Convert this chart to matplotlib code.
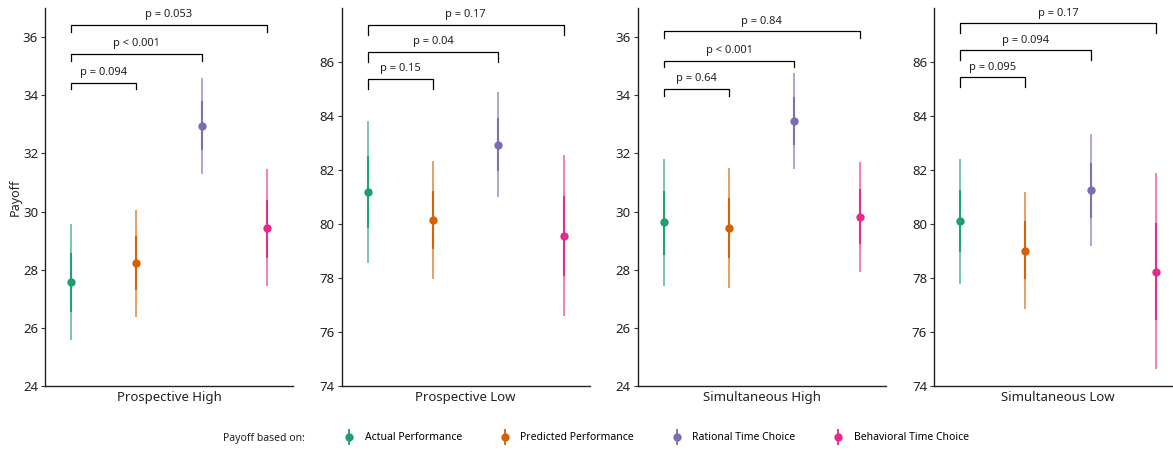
import matplotlib
matplotlib.use("Agg")
import matplotlib.pyplot as plt
from matplotlib.lines import Line2D
from matplotlib.legend_handler import HandlerTuple

plt.rcParams['font.family'] = ['Noto Sans', 'DejaVu Sans']

# data
panels = ['Prospective High', 'Prospective Low', 'Simultaneous High', 'Simultaneous Low']
series = ['Actual Performance', 'Predicted Performance', 'Rational Time Choice', 'Behavioral Time Choice']
colors = ['#1B9E77', '#D95F02', '#7570B3', '#E7298A']

means = [
    [27.56, 28.22, 32.95, 29.44],
    [81.20, 80.15, 82.94, 79.56],
    [29.64, 29.43, 33.13, 29.81],
    [80.11, 79.01, 81.26, 78.22],
]
ci_low = [
    [25.58, 26.38, 31.29, 27.44],
    [78.57, 77.95, 81.00, 76.59],
    [27.44, 27.37, 31.48, 27.92],
    [77.79, 76.84, 79.19, 74.62],
]
ci_high = [
    [29.56, 30.05, 34.60, 31.46],
    [83.81, 82.33, 84.90, 82.54],
    [31.81, 31.50, 34.77, 31.71],
    [82.42, 81.20, 83.32, 81.88],
]
se_low = [
    [26.55, 27.30, 32.13, 28.40],
    [79.87, 79.06, 81.96, 78.07],
    [28.50, 28.41, 32.30, 28.87],
    [78.96, 77.95, 80.24, 76.44],
]
se_high = [
    [28.58, 29.15, 33.79, 30.40],
    [82.52, 81.22, 83.94, 81.04],
    [30.70, 30.47, 33.94, 30.76],
    [81.26, 80.11, 82.27, 80.05],
]

# comparisons against Actual Performance (group 1)
cmp_to = [2, 3, 4]
p_labels = [
    ['p = 0.094', 'p < 0.001', 'p = 0.053'],
    ['p = 0.15', 'p = 0.04', 'p = 0.17'],
    ['p = 0.64', 'p < 0.001', 'p = 0.84'],
    ['p = 0.095', 'p = 0.094', 'p = 0.17'],
]
bracket_top = [
    [34.42, 35.43, 36.43],
    [85.38, 86.38, 87.37],
    [34.22, 35.19, 36.20],
    [85.44, 86.44, 87.43],
]
bracket_drop = [
    [34.20, 35.19, 36.18],
    [84.99, 86.00, 87.00],
    [33.97, 34.96, 35.97],
    [85.07, 86.07, 87.09],
]

ylims = [(24, 37), (74, 88), (24, 37), (74, 88)]
yticks = [[24, 26, 28, 30, 32, 34, 36], [74, 76, 78, 80, 82, 84, 86],
          [24, 26, 28, 30, 32, 34, 36], [74, 76, 78, 80, 82, 84, 86]]

W, H = 1173, 451
fig = plt.figure(figsize=(W / 100, H / 100), dpi=100)

lefts = [45, 341.7, 637.7, 934]
widths = [248, 248, 248, 239]
xmax = [4.4, 4.4, 4.4, 4.26]
bottom_px, top_px = 386, 8

for i in range(4):
    ax = fig.add_axes([lefts[i] / W, (H - bottom_px) / H, widths[i] / W, (bottom_px - top_px) / H])
    for j in range(4):
        x = j + 1
        ax.vlines(x, ci_low[i][j], ci_high[i][j], color=colors[j], lw=1.4, alpha=0.6, zorder=2)
        ax.vlines(x, se_low[i][j], se_high[i][j], color=colors[j], lw=1.5, alpha=0.95, zorder=3)
        ax.plot(x, means[i][j], 'o', color=colors[j], ms=6, mew=0, zorder=4)
    for k in range(3):
        x2 = cmp_to[k]
        yt, yd = bracket_top[i][k], bracket_drop[i][k]
        ax.plot([1, 1, x2, x2], [yd, yt, yt, yd], color='black', lw=0.9, zorder=1)
        ax.text((1 + x2) / 2, yt + (ylims[i][1] - ylims[i][0]) * 0.012, p_labels[i][k],
                ha='center', va='bottom', fontsize=8, color='#222222')
    ax.set_xlim(0.6, xmax[i])
    ax.set_ylim(*ylims[i])
    ax.set_yticks(yticks[i])
    ax.set_xticks([])
    ax.tick_params(axis='y', labelsize=9.5, length=3, width=0.8, colors='#333333', labelcolor='#222222', pad=2)
    for s in ['top', 'right']:
        ax.spines[s].set_visible(False)
    for s in ['left', 'bottom']:
        ax.spines[s].set_linewidth(1.0)
        ax.spines[s].set_color('#222222')
    ax.text(2.5, -0.012, panels[i], transform=ax.get_xaxis_transform(), ha='center', va='top',
            fontsize=9.5, color='#222222')
    if i == 0:
        ax.set_ylabel('Payoff', fontsize=9, color='#222222', labelpad=1)

# legend
handles = []
for c in colors:
    vline = Line2D([], [], marker='|', color=c, ms=11, mew=1.3, ls='none')
    dot = Line2D([], [], marker='o', color=c, ms=6, mew=0, ls='none')
    handles.append((vline, dot))
fig.text(223 / W, 1 - 438 / H, 'Payoff based on:', fontsize=7.5, va='center', ha='left', color='#222222')
fig.legend(handles, series, handler_map={tuple: HandlerTuple(ndivide=1)}, ncol=4,
           loc='center left', bbox_to_anchor=(344 / W, 1 - 438 / H), frameon=False,
           fontsize=7.5, handlelength=1.0, handletextpad=1.0, columnspacing=3.6,
           borderpad=0, borderaxespad=0)

fig.savefig('out.png', dpi=100)
